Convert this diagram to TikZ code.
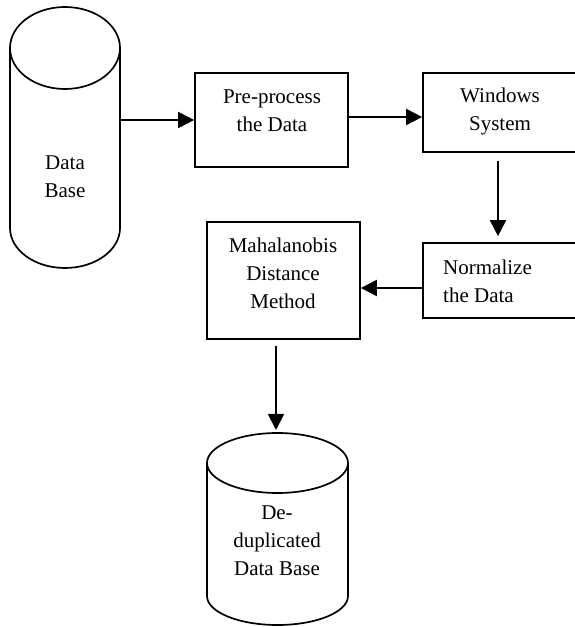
\documentclass[tikz,border=0pt]{standalone}
\usepackage{fontspec}
\setmainfont{Liberation Serif}
\usetikzlibrary{arrows.meta}
\begin{document}
\begin{tikzpicture}[x=1pt,y=1pt,
  box/.style={draw,line width=1.7pt,rectangle,minimum width=#1,inner sep=0pt},
  txt/.style={font=\fontsize{21}{28}\selectfont,align=center,inner sep=0pt},
  arr/.style={line width=1.9pt,-{Triangle[length=16pt,width=16pt]}},
  cylline/.style={line width=1.7pt}]
\useasboundingbox (0,0) rectangle (575,627);
\clip (0,0) rectangle (575,627);
% Data Base cylinder
\draw[cylline] (10,579) -- (10,399) arc[start angle=180,end angle=360,x radius=55,y radius=40] -- (120,579);
\draw[cylline] (65,579) ellipse[x radius=55,y radius=41];
\node[txt] (db) at (65,450) {Data\\Base};
\coordinate (dbout) at (120,507);
% Pre-process box
\node[box=153pt,minimum height=94pt] (pre) at (271.5,507) {};
\node[txt] (pretxt) at (272,516) {Pre-process\\the Data};
% Windows box
\node[box=180pt,minimum height=79pt] (win) at (513,514.5) {};
\node[txt] (wintxt) at (500,515.5) {Windows\\System};
% Normalize box
\node[box=180pt,minimum height=75pt] (norm) at (513,346.5) {};
\node[txt,align=left,anchor=west] (normtxt) at (443,346) {Normalize\\the Data};
% Mahalanobis box
\node[box=153pt,minimum height=117pt] (maha) at (283.5,346.5) {};
\node[txt] (mahatxt) at (283,353.5) {Mahalanobis\\Distance\\Method};
% De-duplicated cylinder
\draw[cylline] (207,164) -- (207,31) arc[start angle=180,end angle=360,x radius=70.5,y radius=29] -- (348,164);
\draw[cylline] (277.5,164) ellipse[x radius=70.5,y radius=30];
\node[txt] (dd) at (277,86.5) {De-\\duplicated\\Data Base};
\coordinate (ddtop) at (276,197);
% connectors
\draw[arr] (dbout) -- (pre.west |- dbout);
\draw[arr] (pre.east |- 0,510) -- (win.west |- 0,510);
\draw[arr,shorten <=8pt,shorten >=6pt] (win.south -| 498,0) -- (norm.north -| 498,0);
\draw[arr] (norm.west |- 0,339) -- (maha.east |- 0,339);
\draw[arr,shorten <=6pt] (maha.south -| ddtop) -- (ddtop);
\end{tikzpicture}
\end{document}
